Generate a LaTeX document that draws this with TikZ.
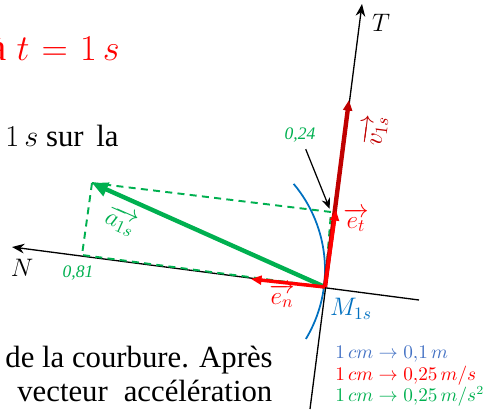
\documentclass[tikz,border=0pt]{standalone}
\usepackage{fontspec}
\setmainfont{Liberation Serif}
\usepackage{amsmath}
\usetikzlibrary{arrows.meta, positioning, calc}
\definecolor{vred}{RGB}{192,0,0}
\definecolor{ered}{RGB}{255,0,0}
\definecolor{agreen}{RGB}{0,176,80}
\definecolor{mblue}{RGB}{0,112,192}
\definecolor{lblue}{RGB}{68,114,196}

\begin{document}
\begin{tikzpicture}[
  x=0.02cm, y=-0.02cm,
  body/.style={inner sep=0pt, font=\fontsize{17.5}{21}\selectfont},
  lbl/.style={inner sep=1pt, font=\fontsize{14}{16}\selectfont},
  small/.style={inner sep=1pt, font=\fontsize{10}{12}\selectfont\itshape, text=agreen},
  leg/.style={inner sep=0pt, anchor=base west, font=\fontsize{10.5}{12}\selectfont},
  axis/.style={line width=0.75pt, -{Stealth[length=7pt, width=5.5pt]}},
  vec/.style={line width=#1, -{Triangle[length=6pt, width=5pt]}},
  proj/.style={agreen, line width=1.1pt, dash pattern=on 4pt off 3pt}
]
  \useasboundingbox (0,0) rectangle (483,409);
  % text of the page
  \node[body, anchor=base east, text=red, font=\fontsize{22}{26}\selectfont] (head) at (120,60) {à $t\mkern6mu{=}\mkern6mu1\,s$};
  \node[body, anchor=base east] (line1) at (119,146) {$1\,s$ sur\, la};
  \node[body, anchor=base east] (line2) at (273,367) {de la courbure. Après};
  \node[body, anchor=base west, text width=5.1cm] (line3) at (17,401) {vecteur\hfill accélération};
  % points
  \coordinate (M) at (325,287);
  \coordinate (Ttop) at (362,4);
  \coordinate (Tbot) at (310,409);
  \coordinate (Nleft) at (12,247);
  \coordinate (Nright) at (419,300);
  \coordinate (vtip) at (349,100);
  \coordinate (ettip) at (336,210);
  \coordinate (entip) at (251,279);
  \coordinate (atip) at (92,183);
  \coordinate (pN) at (82,255);
  \coordinate (pT) at (331,212);
  \coordinate (ctr) at (191,270);
  % osculating circle
  \draw[mblue, line width=1pt] ($(ctr)+(-40:134)$) arc[start angle=-40, end angle=31, radius=134];
  % axes
  \draw[axis] (Tbot) -- (Ttop);
  \draw[axis] (Nright) -- (Nleft);
  \node[lbl] (Tlab) at (381,23) {$T$};
  \node[lbl] (Nlab) at (22,268) {$N$};
  % projections
  \draw[proj] (atip) -- (pN) -- (M);
  \draw[proj] (atip) -- (pT) -- (M);
  % vectors
  \draw[vec=2.5pt, agreen, -{Triangle[length=9pt, width=8pt]}] (M) -- (atip);
  \draw[vec=2.5pt, vred] (M) -- (vtip);
  \draw[vec=2pt, ered] (M) -- (ettip);
  \draw[vec=2pt, ered] (M) -- (entip);
  \node[lbl, text=vred, rotate=82.7] (vlab) at (375,131) {$\overrightarrow{v_{1s}}$};
  \node[lbl, text=agreen, rotate=-24] (alab) at (121,221) {$\overrightarrow{a_{1s}}$};
  \node[lbl, text=ered] (etlab) at (356,220) {$\overrightarrow{e_t}$};
  \node[lbl, text=ered] (enlab) at (282,296) {$\overrightarrow{e_n}$};
  \node[lbl, text=mblue] (Mlab) at (351,309) {$M_{1s}$};
  % components
  \node[small] (l024) at (300,135) {0,24};
  \node[small] (l081) at (78,273) {0,81};
  \draw[line width=0.7pt, -{Stealth[length=6pt, width=5pt]}, shorten <=3pt, shorten >=2pt] (l024) -- (pT);
  % scales
  \node[leg, text=lblue] (s1) at (335,358) {$1\,cm \rightarrow 0{,}1\,m$};
  \node[leg, text=ered] (s2) at (335,380) {$1\,cm \rightarrow 0{,}25\,m/s$};
  \node[leg, text=agreen] (s3) at (335,401) {$1\,cm \rightarrow 0{,}25\,m/s^2$};
\end{tikzpicture}
\end{document}
